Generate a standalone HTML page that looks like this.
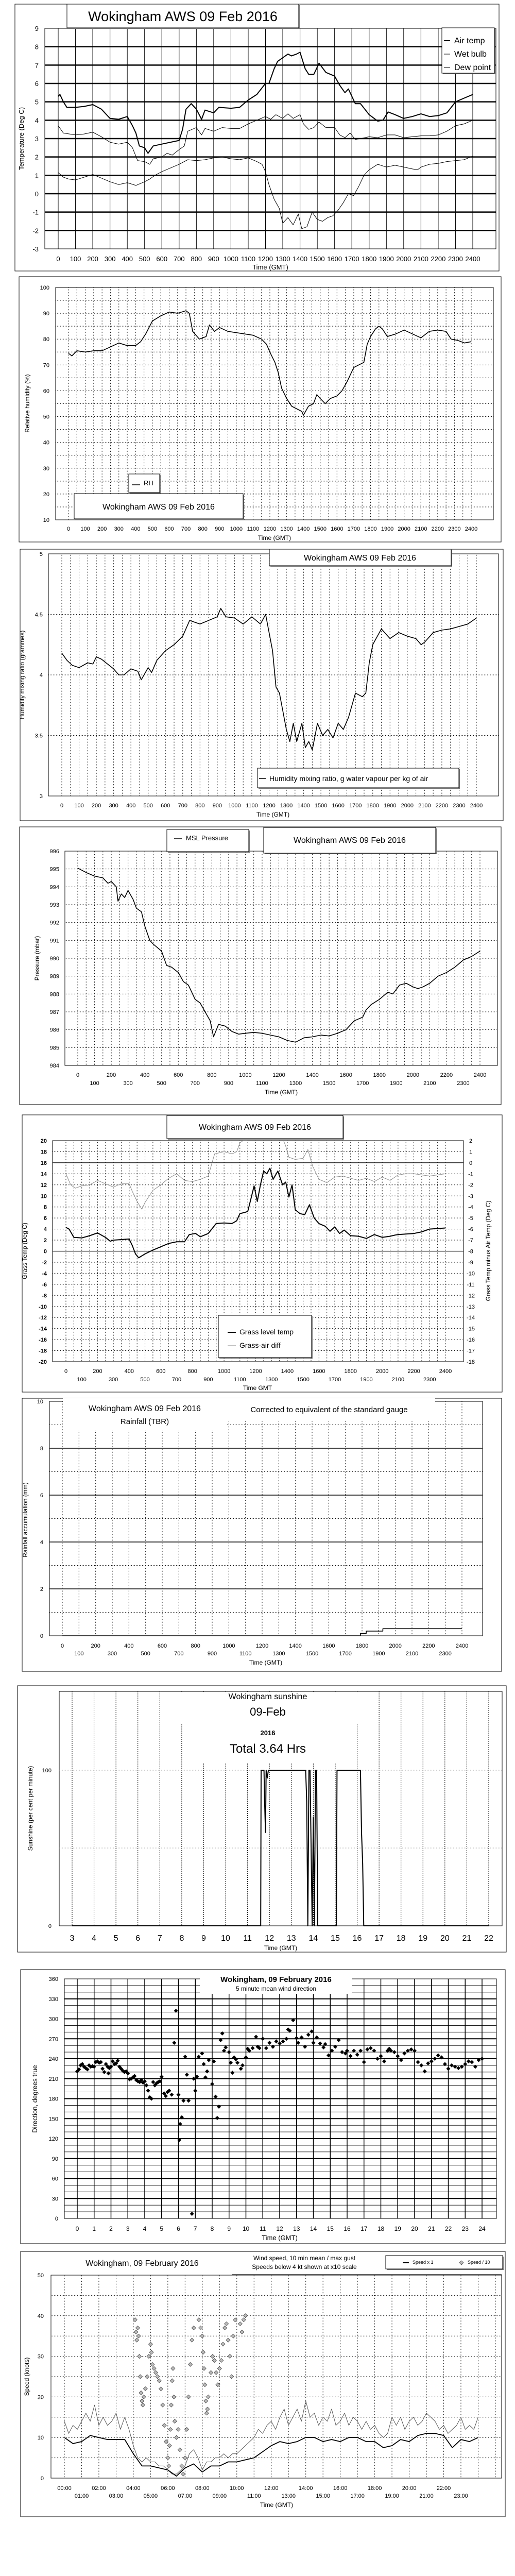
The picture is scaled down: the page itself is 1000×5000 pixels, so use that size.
<!DOCTYPE html>
<html><head><meta charset="utf-8"><style>
html,body{margin:0;padding:0;background:#fff;}
svg{display:block;font-family:"Liberation Sans",sans-serif;}
.n{font-family:"Liberation Sans Narrow","Liberation Sans",sans-serif;}
</style></head><body>
<svg id="root" width="1000" height="5000" viewBox="0 0 1000 5000" xmlns="http://www.w3.org/2000/svg"></svg>
<script>
// ---------- DATA ----------
// Chart 1 temperatures (time HHMM, deg C)
const tT=[0,10,30,50,100,150,200,250,300,350,400,430,450,470,500,520,550,600,650,700,720,740,770,800,830,850,900,930,1000,1050,1100,1150,1200,1220,1250,1270,1300,1330,1350,1380,1400,1430,1450,1480,1510,1550,1600,1630,1660,1680,1720,1750,1800,1850,1880,1910,1950,2000,2050,2100,2150,2200,2250,2300,2350,2400];
const airT=[5.3,5.4,5.0,4.7,4.7,4.75,4.85,4.6,4.1,4.05,4.2,3.7,3.3,2.6,2.5,2.2,2.6,2.7,2.8,2.9,3.5,4.6,4.9,4.6,4.05,4.55,4.4,4.7,4.65,4.7,5.1,5.4,6.0,6.0,6.8,7.2,7.4,7.6,7.5,7.6,7.7,6.8,6.5,6.5,7.1,6.6,6.4,5.9,5.5,5.7,4.9,4.9,4.3,3.95,4.0,4.45,4.3,4.1,4.2,4.35,4.2,4.25,4.4,5.0,5.2,5.4];
const tW=[0,30,100,150,200,250,300,350,400,430,460,500,530,550,600,630,660,700,730,750,800,830,850,900,950,1000,1050,1100,1150,1200,1230,1260,1300,1330,1360,1400,1420,1450,1480,1510,1550,1600,1630,1660,1690,1720,1750,1800,1850,1900,1950,2000,2050,2100,2150,2200,2250,2300,2350,2400];
const wetT=[3.7,3.3,3.2,3.25,3.35,3.1,2.8,2.7,2.8,2.5,1.8,1.75,1.6,1.9,2.0,2.2,2.1,2.4,2.6,3.4,3.6,3.2,3.55,3.4,3.6,3.55,3.55,3.8,4.0,4.2,4.05,4.3,4.1,4.35,4.1,4.3,3.8,3.5,3.6,3.9,3.6,3.6,3.2,3.05,3.3,2.95,3.0,3.1,3.05,3.2,3.2,3.05,3.1,3.15,3.15,3.2,3.4,3.7,3.8,4.0];
const tD=[0,30,60,100,150,200,250,300,350,400,450,500,530,560,600,650,700,750,800,850,900,950,1000,1050,1100,1150,1180,1200,1220,1250,1280,1300,1330,1360,1390,1410,1440,1470,1500,1530,1560,1590,1620,1650,1680,1710,1740,1770,1800,1850,1900,1950,2000,2050,2080,2100,2150,2200,2250,2300,2350,2400];
const dewT=[1.15,0.9,0.8,0.75,0.9,1.05,0.85,0.65,0.5,0.6,0.45,0.65,0.8,1.0,1.2,1.4,1.6,1.85,1.8,1.85,1.95,2.0,1.9,1.85,1.95,1.75,1.6,1.2,0.5,-0.3,-0.8,-1.6,-1.3,-1.7,-1.1,-1.9,-1.8,-1.0,-1.4,-1.5,-1.3,-1.2,-0.9,-0.5,0.0,-0.1,0.4,1.0,1.3,1.6,1.45,1.55,1.45,1.35,1.3,1.45,1.6,1.65,1.75,1.8,1.85,2.05];
// Chart 2 relative humidity
const tRH=[0,20,50,100,150,200,250,300,350,400,430,460,500,550,600,650,700,720,740,780,820,840,870,900,950,1000,1050,1100,1150,1180,1200,1230,1250,1270,1300,1330,1360,1390,1400,1430,1460,1480,1500,1530,1560,1600,1630,1660,1700,1730,1760,1780,1800,1830,1850,1870,1900,1950,2000,2050,2100,2150,2200,2250,2280,2320,2360,2400];
const rh=[74.5,73.5,75.5,75,75.5,75.5,77,78.5,77.5,77.5,79,82,87,89,90.5,90,91,90,83,80,81,85.5,83,84.5,83,82.5,82,81.5,80,78,75,71,67,61,57,54,53,52,50.5,54,55,58.5,57,55,57,58,60,63.5,69,70,71,78,81,84,85,84,81,82,83.5,82,80.5,83,83.5,83,80,79.5,78.5,79];
// Chart 3 mixing ratio
const tMR=[0,30,60,100,150,180,200,230,300,330,360,400,440,460,500,520,550,600,650,700,740,800,850,900,920,950,1000,1050,1100,1150,1180,1200,1220,1240,1260,1280,1300,1320,1340,1360,1390,1410,1430,1450,1480,1510,1540,1570,1600,1630,1660,1700,1740,1760,1780,1800,1850,1900,1950,2000,2050,2080,2100,2150,2200,2250,2300,2350,2400];
const mr=[4.18,4.12,4.08,4.06,4.1,4.09,4.15,4.13,4.05,4.0,4.0,4.05,4.03,3.96,4.06,4.02,4.12,4.2,4.25,4.32,4.45,4.42,4.45,4.48,4.55,4.48,4.47,4.42,4.48,4.42,4.5,4.35,4.2,3.9,3.85,3.7,3.55,3.45,3.6,3.45,3.6,3.4,3.45,3.38,3.6,3.5,3.55,3.48,3.6,3.55,3.65,3.85,3.82,3.85,4.1,4.25,4.38,4.3,4.35,4.32,4.3,4.25,4.27,4.35,4.37,4.38,4.4,4.42,4.47];
// Chart 4 pressure
const tP=[0,50,100,150,180,200,230,240,260,280,300,330,350,380,400,430,450,500,530,560,600,630,660,700,730,760,790,810,840,880,920,960,1000,1050,1100,1150,1200,1250,1300,1350,1400,1450,1500,1550,1600,1650,1700,1720,1750,1800,1850,1880,1920,1960,2000,2030,2060,2100,2150,2200,2250,2300,2350,2400];
const pres=[995.05,994.8,994.6,994.5,994.2,994.3,994.0,993.2,993.6,993.4,993.8,993.3,992.8,992.6,991.8,991.0,990.8,990.4,989.6,989.5,989.2,988.7,988.5,987.7,987.5,987.0,986.5,985.6,986.3,986.2,985.9,985.75,985.8,985.85,985.8,985.7,985.6,985.4,985.3,985.55,985.6,985.7,985.65,985.8,986.0,986.5,986.7,987.1,987.4,987.7,988.1,988.0,988.5,988.6,988.4,988.3,988.4,988.6,989.0,989.2,989.5,989.9,990.1,990.4];
// Chart 5 grass temp & grass-air diff
const tG=[0,20,50,100,150,200,250,280,300,350,400,420,440,460,500,550,600,650,700,750,780,820,850,900,950,1000,1050,1080,1100,1130,1150,1170,1190,1210,1230,1250,1270,1290,1310,1340,1370,1390,1410,1430,1450,1480,1510,1540,1570,1600,1640,1670,1700,1730,1760,1800,1850,1900,1950,2000,2050,2080,2100,2150,2200,2250,2300,2400];
const grass=[4.3,4.0,2.5,2.4,2.8,3.3,2.5,1.8,2.0,2.1,2.2,1.0,-0.5,-1.2,-0.5,0.2,0.8,1.4,1.7,1.7,3.0,3.2,2.6,3.2,5.0,5.1,5.0,5.5,6.8,7.0,7.2,9.5,11.8,9.0,12.0,14.5,14.0,15.0,13.0,14.5,12.0,12.5,9.8,12.0,7.5,6.8,6.6,8.4,6.0,5.0,4.5,3.6,4.4,3.2,3.8,2.8,2.7,2.3,3.0,2.5,2.7,2.9,3.0,3.1,3.2,3.5,4.0,4.2];
const tGD=[0,30,60,100,150,200,250,300,350,400,420,450,480,500,550,600,650,700,750,800,850,900,940,1000,1050,1080,1100,1120,1150,1250,1350,1390,1410,1450,1500,1530,1560,1600,1650,1700,1750,1800,1850,1900,1950,2000,2050,2100,2150,2200,2250,2300,2400];
const gdiff=[-1.0,-2.0,-2.3,-2.1,-2.0,-1.6,-1.9,-2.2,-1.9,-1.9,-2.6,-3.5,-4.2,-3.6,-2.5,-2.0,-1.4,-1.0,-1.6,-1.7,-1.5,-1.2,0.8,1.0,0.8,1.0,1.8,2.0,2.0,3.0,3.0,1.5,0.5,0.3,0.4,1.2,-0.3,-1.5,-1.8,-1.3,-1.2,-1.4,-1.6,-1.4,-1.7,-1.3,-1.6,-1.1,-1.0,-1.0,-1.1,-1.2,-1.0];
// Chart 6 rainfall accumulation
const tRain=[0,1790,1790,1825,1825,1925,1925,2400];
const rain=[0,0,0.1,0.1,0.2,0.2,0.3,0.3];
// Chart 7 sunshine
const tSun=[3,11.6,11.62,11.75,11.78,11.82,11.85,11.9,11.95,12.0,13.65,13.7,13.75,13.8,13.85,13.9,13.95,14.0,14.05,14.1,14.15,14.2,14.25,14.3,15.05,15.08,16.15,16.2,16.25,16.3,22];
const sun=[0,0,100,100,80,60,100,95,100,100,100,80,0,100,100,50,0,70,0,100,100,0,0,0,0,100,100,60,40,0,0];
// Chart 8 wind direction
const hDir=[0,0.1,0.2,0.3,0.4,0.5,0.6,0.7,0.8,0.9,1.0,1.1,1.2,1.3,1.4,1.5,1.6,1.7,1.8,1.85,1.9,2.0,2.1,2.2,2.3,2.4,2.5,2.6,2.7,2.8,2.9,3.0,3.1,3.2,3.3,3.4,3.5,3.6,3.7,3.8,3.9,4.0,4.1,4.2,4.3,4.4,4.5,4.6,4.7,4.8,4.9,5.0,5.15,5.25,5.35,5.45,5.6,5.75,5.85,6.0,6.05,6.1,6.2,6.3,6.4,6.5,6.6,6.8,6.9,7.0,7.1,7.2,7.4,7.5,7.6,7.7,7.8,8.0,8.1,8.2,8.3,8.4,8.5,8.6,8.7,8.8,9.0,9.1,9.2,9.3,9.4,9.5,9.7,9.8,10.0,10.1,10.2,10.4,10.6,10.7,10.8,11.0,11.2,11.4,11.6,11.8,12.0,12.2,12.4,12.5,12.6,12.8,13.0,13.1,13.3,13.5,13.7,13.9,14.0,14.2,14.4,14.6,14.7,14.9,15.1,15.3,15.5,15.7,15.9,16.0,16.2,16.4,16.6,16.8,17.0,17.2,17.4,17.6,17.8,18.0,18.2,18.4,18.5,18.6,18.8,19.0,19.2,19.4,19.6,19.8,20.0,20.2,20.4,20.6,20.8,21.0,21.2,21.4,21.6,21.8,22.0,22.2,22.4,22.6,22.8,23.0,23.2,23.4,23.6,23.8,24.0];
const dir=[221,224,230,232,228,226,224,230,228,229,228,235,236,234,235,225,220,232,228,218,226,228,236,232,233,237,228,225,222,220,221,218,209,210,212,214,208,206,205,208,204,206,200,192,182,180,205,200,203,205,206,213,188,184,190,192,186,264,312,186,118,142,152,177,243,216,177,7,210,192,213,243,248,232,212,221,238,202,236,183,151,168,268,278,252,257,250,234,219,242,239,234,225,230,242,255,252,256,273,258,256,270,256,264,258,266,263,266,270,284,282,298,271,264,272,258,276,281,264,272,263,257,262,245,252,258,268,250,248,252,244,252,246,252,235,254,256,252,240,244,236,252,255,252,250,244,238,248,252,254,252,235,230,221,233,236,240,245,242,232,225,230,228,226,228,232,236,235,228,238,240,226,232,236,240,246,248,248,253,249,248,246,248];
// Chart 9 wind speed
const hMean=[0,0.5,1,1.5,2,2.5,3,3.5,4,4.5,5,5.5,6,6.5,7,7.5,8,8.5,9,9.5,10,10.5,11,11.5,12,12.5,13,13.5,14,14.5,15,15.5,16,16.5,17,17.5,18,18.5,19,19.5,20,20.5,21,21.5,22,22.5,23,23.5,24];
const meanSpd=[10,8.5,9,10.5,10,9.5,9.5,9.5,6,3,3,2.5,2,0.5,2.5,3.5,1.5,3,3,4,4,4.5,5,6.5,8,9,8.5,9,10,10,9,9.5,9,10,10,9,9,7.5,8,9.5,9,10.5,11,11,10.5,7.5,9.5,9,10];
const hGust=[0,0.25,0.5,0.75,1,1.25,1.5,1.75,2,2.25,2.5,2.75,3,3.25,3.5,3.75,4,4.25,4.5,4.75,5,5.25,5.5,5.75,6,6.25,6.5,6.75,7,7.25,7.5,7.75,8,8.25,8.5,8.75,9,9.25,9.5,9.75,10,10.25,10.5,10.75,11,11.25,11.5,11.75,12,12.25,12.5,12.75,13,13.25,13.5,13.75,14,14.25,14.5,14.75,15,15.25,15.5,15.75,16,16.25,16.5,16.75,17,17.25,17.5,17.75,18,18.25,18.5,18.75,19,19.25,19.5,19.75,20,20.25,20.5,20.75,21,21.25,21.5,21.75,22,22.25,22.5,22.75,23,23.25,23.5,23.75,24];
const gust=[14,11,13,12,14,16,14,18,13,15,13,14,16,12,15,12,8,5,4,5,4,4,3,3,2,1,1,2,3,6,7,5,2,4,4,5,5,6,5,6,6,7,8,9,10,12,11,13,14,12,15,17,13,15,17,14,19,15,16,13,15,14,17,13,14,16,13,15,14,12,14,12,13,11,10,11,15,13,15,12,14,15,13,14,16,15,14,12,13,11,12,13,15,12,13,12,15];
const hLow=[4.1,4.15,4.2,4.25,4.3,4.35,4.4,4.45,4.5,4.55,4.6,4.7,4.8,4.9,5.0,5.05,5.1,5.2,5.3,5.4,5.5,5.6,5.7,5.8,5.9,6.0,6.05,6.1,6.15,6.2,6.25,6.3,6.35,6.4,6.5,6.6,6.7,6.8,6.9,7.0,7.1,7.2,7.3,7.4,7.5,7.8,7.9,8.0,8.05,8.1,8.15,8.2,8.25,8.3,8.35,8.5,8.6,8.7,8.8,8.9,9.0,9.1,9.2,9.3,9.4,9.5,9.6,9.7,9.8,9.9,10.2,10.3,10.4,10.5];
const lowSpd=[39,36,34,37,35,30,25,21,19,18,20,22,25,30,33,31,28,27,26,25,24,22,18,13,9,5,3,8,12,18,24,27,20,14,10,12,7,3,1,5,12,20,28,34,37,39,37,35,31,27,23,19,16,17,20,26,30,29,26,23,27,29,33,37,38,34,30,25,35,39,38,36,39,40];
// tick labels
const hhmm=['0','100','200','300','400','500','600','700','800','900','1000','1100','1200','1300','1400','1500','1600','1700','1800','1900','2000','2100','2200','2300','2400'];
const sunHours=['3','4','5','6','7','8','9','10','11','12','13','14','15','16','17','18','19','20','21','22'];
const clock=['00:00','01:00','02:00','03:00','04:00','05:00','06:00','07:00','08:00','09:00','10:00','11:00','12:00','13:00','14:00','15:00','16:00','17:00','18:00','19:00','20:00','21:00','22:00','23:00'];

// ---------- HELPERS ----------
const NS='http://www.w3.org/2000/svg';
const root=document.getElementById('root');
function mk(tag,attrs,parent){const e=document.createElementNS(NS,tag);for(const k in attrs)e.setAttribute(k,attrs[k]);(parent||root).appendChild(e);return e;}
function lin(d0,d1,r0,r1){return v=>r0+(v-d0)*(r1-r0)/(d1-d0);}
function grp(name){const g=mk('g',{});return g;}
function box(g,x,y,w,h,name,shadow){
  if(shadow){const s=mk('rect',{x:x+2,y:y+2,width:w,height:h,fill:'#777'},g);}
  const r=mk('rect',{x:x,y:y,width:w,height:h,fill:'#fff',stroke:'#000','stroke-width':1},g);
  
  return r;}
function txt(g,x,y,s,size,anchor,name,extra){const t=mk('text',{x:x,y:y,'font-size':size,'text-anchor':anchor||'middle'},g);if(extra)for(const k in extra)t.setAttribute(k,extra[k]);t.textContent=s;
  
  return t;}
function ln(g,x1,y1,x2,y2,w,dash,col,name){const l=mk('line',{x1:x1,y1:y1,x2:x2,y2:y2,stroke:col||'#000','stroke-width':w||1},g);if(dash)l.setAttribute('stroke-dasharray',dash);
  
  return l;}
function path(g,xs,ys,sx,sy,w,col,name,clip){let d='';for(let i=0;i<xs.length;i++)d+=(i?'L':'M')+sx(xs[i]).toFixed(1)+' '+sy(ys[i]).toFixed(1);
  const p=mk('path',{d:d,fill:'none',stroke:col||'#000','stroke-width':w,'stroke-linejoin':'round'},g);if(clip)p.setAttribute('clip-path','url(#'+clip+')');
  
  return p;}
function clipRect(id,x,y,w,h){let d=root.querySelector('defs');if(!d)d=mk('defs',{});const c=mk('clipPath',{id:id},d);mk('rect',{x:x,y:y,width:w,height:h},c);}
function ytitle(g,x,y,s,size,name){return txt(g,x,y,s,size,'middle',name,{transform:'rotate(-90 '+x+' '+y+')'});}

// ---------- CHART 1: temperatures ----------
(function(){
  const g=grp('temperature-chart');
  box(g,29,8,940,518,'temperature-chart-frame');
  const L=87,R=963,T=55,B=483;const sx=lin(0,2400,113,918),sy=lin(-3,9,B,T);
  box(g,L,T,R-L,B-T,'temperature-plot-area');
  for(let i=0;i<hhmm.length;i++){ln(g,sx(i*100),T,sx(i*100),B,1,null,'#000','vertical-grid-line');
    txt(g,sx(i*100),507,hhmm[i],13,'middle','x-tick-label',{class:'n'});}
  for(let v=-3;v<=9;v++){if(v>-3&&v<9)ln(g,L,sy(v),R,sy(v),2.5,null,'#000','horizontal-grid-line');
    txt(g,75,sy(v)+5,String(v),13,'end','y-tick-label',{class:'n'});}
  ytitle(g,46,269,'Temperature (Deg C)',13,'y-axis-title');
  txt(g,525,523,'Time (GMT)',13,'middle','x-axis-title',{class:'n'});
  clipRect('c1',L,T,R-L,B-T);
  path(g,tD,dewT,sx,sy,1,'#000','dew-point-line','c1');
  path(g,tW,wetT,sx,sy,1,'#000','wet-bulb-line','c1');
  path(g,tT,airT,sx,sy,2,'#000','air-temp-line','c1');
  box(g,130,8,450,46,'temperature-title-box',true);
  txt(g,355,41,'Wokingham AWS 09 Feb 2016',27,'middle','chart-title',{class:'n'});
  box(g,858,54,102,88,'temperature-legend',true);
  const names=['Air temp','Wet bulb','Dew point'],ws=[2,1,1];
  for(let i=0;i<3;i++){ln(g,862,79+i*26,874,79+i*26,ws[i],null,'#000','legend-swatch');txt(g,882,84+i*26,names[i],16,'start','legend-entry',{class:'n'});}
})();

// ---------- CHART 2: RH ----------
(function(){
  const g=grp('humidity-chart');
  box(g,37,537,936,515,'humidity-chart-frame');
  const L=108,R=958,T=558,B=1009;const sx=lin(0,2400,133,915),sy=lin(10,100,B,T);
  box(g,L,T,R-L,B-T,'humidity-plot-area');
  for(let t=0;t<=2400;t+=50)ln(g,sx(t),T,sx(t),B,1,'1 2','#000','vertical-grid-line');
  for(let v=15;v<100;v+=5)ln(g,L,sy(v),R,sy(v),1,'1 2','#000','horizontal-grid-line');
  for(let i=0;i<hhmm.length;i++)txt(g,sx(i*100),1030,hhmm[i],11,'middle','x-tick-label');
  for(let v=10;v<=100;v+=10)txt(g,96,sy(v)+4,String(v),11,'end','y-tick-label');
  ytitle(g,57,783,'Relative humidity (%)',12,'y-axis-title');
  txt(g,533,1048,'Time (GMT)',12,'middle','x-axis-title');
  path(g,tRH,rh,sx,sy,1.6,'#000','rh-line');
  box(g,250,920,60,36,'rh-legend',true);
  ln(g,256,941,272,941,1.5,null,'#000','legend-swatch');txt(g,279,942,'RH',13,'start','legend-entry');
  box(g,144,958,328,49,'humidity-title-box',true);
  txt(g,308,989,'Wokingham AWS 09 Feb 2016',16,'middle','chart-title');
})();

// ---------- CHART 3: mixing ratio ----------
(function(){
  const g=grp('mixing-ratio-chart');
  box(g,39,1066,938,527,'mixing-ratio-chart-frame');
  const L=94,R=968,T=1075,B=1545;const sx=lin(0,2400,120,925),sy=lin(3,5,B,T);
  box(g,L,T,R-L,B-T,'mixing-ratio-plot-area');
  for(let t=0;t<=2400;t+=50)ln(g,sx(t),T,sx(t),B,1,'1 2','#000','vertical-grid-line');
  for(let v=3.5;v<5;v+=0.5)ln(g,L,sy(v),R,sy(v),1,'1 2','#000','horizontal-grid-line');
  for(let i=0;i<hhmm.length;i++)txt(g,sx(i*100),1567,hhmm[i],11,'middle','x-tick-label');
  const yl=['3','3.5','4','4.5','5'];
  for(let i=0;i<yl.length;i++)txt(g,83,sy(3+i*0.5)+4,yl[i],11,'end','y-tick-label');
  ytitle(g,47,1310,'Humidity mixing ratio (grammes)',12,'y-axis-title');
  txt(g,530,1585,'Time (GMT)',12,'middle','x-axis-title');
  path(g,tMR,mr,sx,sy,1.6,'#000','mixing-ratio-line');
  box(g,523,1066,353,32,'mixing-ratio-title-box',true);
  txt(g,699,1088,'Wokingham AWS 09 Feb 2016',16,'middle','chart-title');
  box(g,500,1491,391,38,'mixing-ratio-legend',true);
  ln(g,503,1511,516,1511,1.5,null,'#000','legend-swatch');
  txt(g,523,1516,'Humidity mixing ratio, g water vapour per kg of air',14,'start','legend-entry');
})();

// ---------- CHART 4: pressure ----------
(function(){
  const g=grp('pressure-chart');
  box(g,38,1605,935,539,'pressure-chart-frame');
  const L=126,R=966,T=1652,B=2068;const sx=lin(0,2400,151,932),sy=lin(984,996,B,T);
  box(g,L,T,R-L,B-T,'pressure-plot-area');
  for(let t=0;t<=2400;t+=50)ln(g,sx(t),T,sx(t),B,1,'1 2','#000','vertical-grid-line');
  for(let v=985;v<996;v++)ln(g,L,sy(v),R,sy(v),1,'1 2','#000','horizontal-grid-line');
  for(let i=0;i<hhmm.length;i++)txt(g,sx(i*100),i%2?2106:2090,hhmm[i],11,'middle','x-tick-label');
  for(let v=984;v<=996;v++)txt(g,115,sy(v)+4,String(v),11,'end','y-tick-label');
  ytitle(g,76,1860,'Pressure (mbar)',12,'y-axis-title');
  txt(g,546,2124,'Time (GMT)',12,'middle','x-axis-title');
  path(g,tP,pres,sx,sy,1.6,'#000','pressure-line');
  box(g,324,1610,159,43,'pressure-legend',true);
  ln(g,338,1628,353,1628,1.5,null,'#000','legend-swatch');txt(g,361,1631,'MSL Pressure',13,'start','legend-entry');
  box(g,512,1606,334,50,'pressure-title-box',true);
  txt(g,679,1636,'Wokingham AWS 09 Feb 2016',16,'middle','chart-title');
})();

// ---------- CHART 5: grass temp ----------
(function(){
  const g=grp('grass-temp-chart');
  box(g,43,2164,932,538,'grass-temp-chart-frame');
  const L=102,R=900,T=2214,B=2643;const sx=lin(0,2400,128,865),sy=lin(-20,20,B,T),sy2=lin(-18,2,B,T);
  box(g,L,T,R-L,B-T,'grass-temp-plot-area');
  for(let t=0;t<=2400;t+=50)ln(g,sx(t),T,sx(t),B,1,'1 2','#000','vertical-grid-line');
  for(let v=-18;v<20;v+=2)ln(g,L,sy(v),R,sy(v),(v===0||v===16)?1.2:1,(v===0||v===16)?null:'1 2','#000','horizontal-grid-line');
  for(let i=0;i<hhmm.length;i++)txt(g,sx(i*100),i%2?2681:2665,hhmm[i],11,'middle','x-tick-label');
  for(let v=-20;v<=20;v+=2)txt(g,91,sy(v)+4,String(v),11,'end','y-tick-label',{'font-weight':'bold'});
  for(let v=-18;v<=2;v++)txt(g,914,sy2(v)+4,String(v),11,'middle','right-y-tick-label');
  ytitle(g,52,2428,'Grass Temp (Deg C)',12,'y-axis-title');
  ytitle(g,952,2428,'Grass Temp minus Air Temp (Deg C)',12,'right-y-axis-title');
  txt(g,500,2698,'Time GMT',12,'middle','x-axis-title');
  clipRect('c5',L,T,R-L,B-T);
  path(g,tGD,gdiff,sx,sy2,1,'#888','grass-air-diff-line','c5');
  path(g,tG,grass,sx,sy,2,'#000','grass-temp-line','c5');
  box(g,324,2165,342,45,'grass-temp-title-box',true);
  txt(g,495,2193,'Wokingham AWS 09 Feb 2016',16,'middle','chart-title');
  box(g,424,2553,181,82,'grass-temp-legend',true);
  ln(g,442,2586,458,2586,2,null,'#000','legend-swatch');txt(g,465,2590,'Grass level temp',14,'start','legend-entry');
  ln(g,442,2612,458,2612,1,null,'#888','legend-swatch');txt(g,465,2616,'Grass-air diff',14,'start','legend-entry');
})();

// ---------- CHART 6: rainfall ----------
(function(){
  const g=grp('rainfall-chart');
  box(g,43,2714,931,530,'rainfall-chart-frame');
  const L=96,R=937,T=2720,B=3175;const sx=lin(0,2400,121,897),sy=lin(0,10,B,T);
  box(g,L,T,R-L,B-T,'rainfall-plot-area');
  for(let t=0;t<=2400;t+=100)ln(g,sx(t),T,sx(t),B,1,'1 2','#000','vertical-grid-line');
  for(let v=1;v<10;v++)ln(g,L,sy(v),R,sy(v),v%2?1:1.6,v%2?'1 2':null,'#000','horizontal-grid-line');
  for(let i=0;i<hhmm.length;i++)txt(g,sx(i*100),i%2?3213:3198,hhmm[i],11,'middle','x-tick-label');
  for(let v=0;v<=10;v+=2)txt(g,84,sy(v)+4,String(v),11,'end','y-tick-label');
  ytitle(g,53,2950,'Rainfall accumulation (mm)',12,'y-axis-title');
  txt(g,516,3231,'Time (GMT)',12,'middle','x-axis-title');
  path(g,tRain,rain,sx,sy,1.6,'#000','rainfall-line');
  const w1=mk('rect',{x:122,y:2714,width:318,height:63,fill:'#fff'},g);
  const w2=mk('rect',{x:440,y:2714,width:405,height:45,fill:'#fff'},g);
  ln(g,96,2720,122,2720,1,null,'#000','plot-top-edge');ln(g,845,2720,937,2720,1,null,'#000','plot-top-edge');
  txt(g,281,2739,'Wokingham AWS 09 Feb 2016',16,'middle','chart-title');
  txt(g,281,2764,'Rainfall (TBR)',15,'middle','chart-subtitle');
  txt(g,639,2741,'Corrected to equivalent of the standard gauge',15,'middle','chart-note');
})();

// ---------- CHART 7: sunshine ----------
(function(){
  const g=grp('sunshine-chart');
  box(g,34,3272,949,517,'sunshine-chart-frame');
  const L=115,R=975,T=3283,B=3738;const sx=lin(3,22,140,949),sy=lin(0,100,B,3436);
  box(g,L,T,R-L,B-T,'sunshine-plot-area');
  for(let i=0;i<sunHours.length;i++){const h=3+i;ln(g,sx(h),T,sx(h),B,1,'2 2','#000','vertical-grid-line');
    txt(g,sx(h),3767,sunHours[i],16,'middle','x-tick-label');}
  ln(g,L,sy(50),R,sy(50),1,'1 2','#999','horizontal-grid-line');ln(g,L,sy(100),R,sy(100),1,'1 2','#999','horizontal-grid-line');
  txt(g,100,sy(0)+4,'0',11,'end','y-tick-label');txt(g,100,sy(100)+4,'100',11,'end','y-tick-label');
  ytitle(g,63,3510,'Sunshine (per cent per minute)',12,'y-axis-title');
  txt(g,545,3785,'Time (GMT)',12,'middle','x-axis-title');
  const w1=mk('rect',{x:337,y:3284,width:368,height:63,fill:'#fff'},g);
  const w2=mk('rect',{x:360,y:3347,width:330,height:75,fill:'#fff'},g);
  path(g,tSun,sun,sx,sy,2,'#000','sunshine-line');
  txt(g,520,3298,'Wokingham sunshine',16,'middle','chart-title');
  txt(g,520,3330,'09-Feb',22,'middle','chart-date');
  txt(g,520,3368,'2016',13,'middle','chart-year',{'font-weight':'bold'});
  txt(g,520,3402,'Total 3.64 Hrs',24,'middle','sunshine-total');
})();

// ---------- CHART 8: wind direction ----------
(function(){
  const g=grp('wind-direction-chart');
  box(g,40,3823,941,532,'wind-direction-chart-frame');
  const L=125,R=964,T=3841,B=4306;const sx=lin(0,24,150,936),sy=lin(0,360,B,T);
  box(g,L,T,R-L,B-T,'wind-direction-plot-area');
  for(let v=10;v<360;v+=10)ln(g,L,sy(v),R,sy(v),v%30?0.8:2,null,'#000','horizontal-grid-line');
  for(let h=0;h<=24;h++){ln(g,sx(h),T,sx(h),B,1.5,null,'#000','vertical-grid-line');txt(g,sx(h),4330,String(h),12,'middle','x-tick-label');}
  for(let v=0;v<=360;v+=30)txt(g,113,sy(v)+4,String(v),11,'end','y-tick-label');
  ytitle(g,72,4074,'Direction, degrees true',13,'y-axis-title');
  txt(g,543,4348,'Time (GMT)',13,'middle','x-axis-title');
  const w=mk('rect',{x:388,y:3834,width:295,height:36,fill:'#fff'},g);
  txt(g,536,3847,'Wokingham,  09 February 2016',15,'middle','chart-title',{'font-weight':'bold'});
  txt(g,536,3864,'5 minute mean wind direction',12,'middle','chart-subtitle');
  for(let i=0;i<hDir.length;i++){const x=sx(hDir[i]),y=sy(dir[i]);
    const d=mk('path',{d:'M'+x+' '+(y-4)+'L'+(x+4)+' '+y+'L'+x+' '+(y+4)+'L'+(x-4)+' '+y+'Z',fill:'#000'},g);
    
    }
})();

// ---------- CHART 9: wind speed ----------
(function(){
  const g=grp('wind-speed-chart');
  box(g,40,4370,941,515,'wind-speed-chart-frame');
  const L=99,R=974,T=4416,B=4810;const sx=lin(0,23,125,895),sy=lin(0,50,B,T);
  box(g,L,T,R-L,B-T,'wind-speed-plot-area');
  for(let h=0;h<=25;h++){if(sx(h)<R)ln(g,sx(h),T,sx(h),B,1,'1 2','#000','vertical-grid-line');}
  for(let v=5;v<50;v+=5)ln(g,L,sy(v),R,sy(v),1,'1 2','#000','horizontal-grid-line');
  for(let i=0;i<clock.length;i++)txt(g,sx(i),i%2?4848:4833,clock[i],11,'middle','x-tick-label');
  for(let v=0;v<=50;v+=10)txt(g,85,sy(v)+4,String(v),11,'end','y-tick-label');
  ytitle(g,56,4613,'Speed (knots)',12,'y-axis-title');
  txt(g,537,4866,'Time (GMT)',12,'middle','x-axis-title');
  const w=mk('rect',{x:440,y:4371,width:535,height:44,fill:'#fff'},g);
  ln(g,450,4415,974,4415,1,null,'#000','plot-top-edge');
  path(g,hGust,gust,sx,sy,1,'#555','gust-line');
  path(g,hMean,meanSpd,sx,sy,1.8,'#000','mean-speed-line');
  for(let i=0;i<hLow.length;i++){const x=sx(hLow[i]),y=sy(lowSpd[i]);
    const d=mk('path',{d:'M'+x+' '+(y-4)+'L'+(x+4)+' '+y+'L'+x+' '+(y+4)+'L'+(x-4)+' '+y+'Z',fill:'#bbb',stroke:'#333','stroke-width':0.7},g);
    
    }
  txt(g,276,4398,'Wokingham,  09 February 2016',16,'middle','chart-title');
  txt(g,591,4387,'Wind speed, 10 min mean / max gust',12,'middle','chart-subtitle');
  txt(g,591,4404,'Speeds below 4 kt shown at x10 scale',12,'middle','chart-note');
  box(g,749,4378,227,26,'wind-speed-legend',true);
  ln(g,782,4392,794,4392,2,null,'#000','legend-swatch');txt(g,801,4394,'Speed x 1',9,'start','legend-entry');
  const ld=mk('path',{d:'M896 4388L900 4392L896 4396L892 4392Z',fill:'#bbb',stroke:'#333','stroke-width':0.7},g);
  
  
  txt(g,908,4394,'Speed / 10',9,'start','legend-entry');
})();
</script>
</body></html>
